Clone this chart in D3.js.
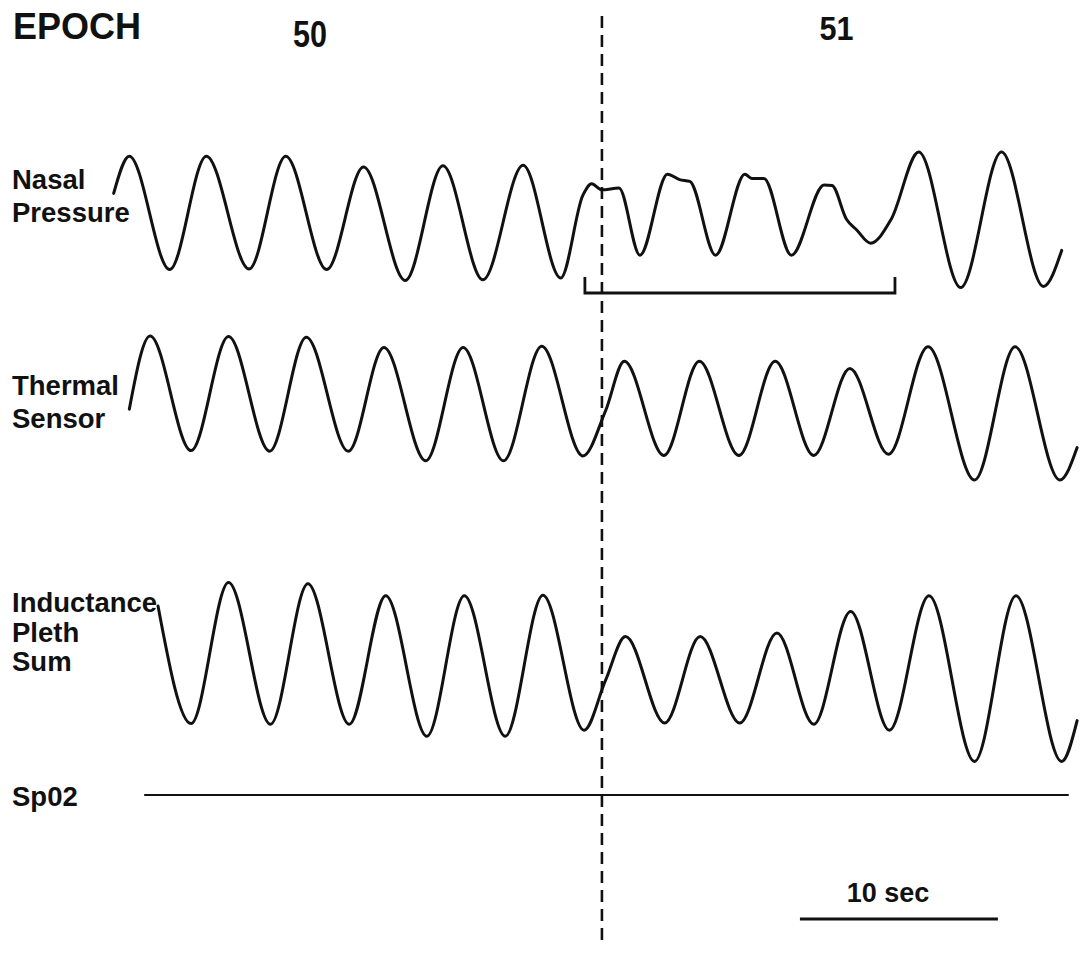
<!DOCTYPE html>
<html>
<head>
<meta charset="utf-8">
<script src="https://cdn.jsdelivr.net/npm/d3@7"></script>
<style>
  html, body { margin: 0; padding: 0; background: #fff; }
  svg text { font-family: "Liberation Sans", Arial, sans-serif; font-weight: bold; fill: #111; }
</style>
</head>
<body>
<svg id="chart" width="1080" height="956"></svg>
<script>
// ---------------- DATA (time in seconds, amplitude in arbitrary units) ----------------
const epochLabels = ["50", "51"];
const epochLabelTimes = [10.6, 37.2];
const epochBoundaryTime = 25.35;

const nasalTimes = [0.69, 1.48, 3.52, 5.37, 7.53, 9.38, 11.45, 13.31, 15.42, 17.32, 19.34, 21.37, 23.27,
  24.39, 24.83, 25.35, 26.21, 27.27, 28.66, 29.27, 29.79, 31.09, 32.57, 32.92, 33.53, 34.92,
  36.57, 36.97, 37.70, 38.22, 38.92, 39.96, 41.35, 43.47, 45.53, 47.65, 48.57];
const nasalValues = [0.36, 0.98, -0.91, 0.98, -0.90, 0.98, -0.91, 0.80, -1.09, 0.82, -1.08, 0.83, -1.05,
  0.33, 0.52, 0.42, 0.45, -0.67, 0.68, 0.59, 0.56, -0.67, 0.68, 0.61, 0.61, -0.67,
  0.50, 0.49, -0.07, -0.25, -0.47, -0.07, 1.05, -1.21, 1.05, -1.19, -0.59];

const thermalTimes = [1.48, 2.53, 4.60, 6.49, 8.57, 10.42, 12.54, 14.34, 16.45, 18.34, 20.38, 22.31,
  24.39, 25.53, 26.48, 28.48, 30.27, 32.27, 34.10, 36.05, 37.87, 39.82, 41.82, 44.17, 46.22, 48.48, 49.35];
const thermalValues = [-0.07, 1.15, -0.76, 1.14, -0.77, 1.13, -0.77, 0.96, -0.93, 0.96, -0.93, 0.98,
  -0.85, -0.10, 0.73, -0.84, 0.73, -0.84, 0.73, -0.84, 0.61, -0.82, 0.97, -1.25, 0.97, -1.25, -0.71];

const inductanceTimes = [2.93, 4.60, 6.49, 8.61, 10.50, 12.59, 14.43, 16.51, 18.40, 20.47, 22.37,
  24.45, 25.53, 26.54, 28.52, 30.31, 32.31, 34.19, 36.05, 37.91, 39.87, 41.87, 44.17, 46.26, 48.57, 49.35];
const inductanceValues = [1.10, -0.86, 1.49, -0.87, 1.47, -0.87, 1.27, -1.07, 1.27, -1.07, 1.28,
  -0.97, -0.14, 0.59, -0.85, 0.59, -0.85, 0.65, -0.87, 1.01, -0.97, 1.27, -1.49, 1.27, -1.49, -0.81];

const spo2Times = [2.27, 48.89];
const spo2Values = [0, 0];

const channelNames = [["Nasal", "Pressure"], ["Thermal", "Sensor"], ["Inductance", "Pleth", "Sum"], ["Sp02"]];

const bracketTimes = [24.49, 40.15];
const scaleBarStart = 35.35;
const scaleBarSeconds = 10;
const scaleBarLabel = "10 sec";

// ---------------- LAYOUT ----------------
const svg = d3.select("#chart");
const x = d3.scaleLinear().domain([0, 50]).range([100, 1090]);

function yScale(center) {
  return d3.scaleLinear().domain([-1, 1]).range([center + 60, center - 60]);
}
const channels = [
  { times: nasalTimes, values: nasalValues, y: yScale(215), labelY: [189, 222] },
  { times: thermalTimes, values: thermalValues, y: yScale(405), labelY: [395, 428] },
  { times: inductanceTimes, values: inductanceValues, y: yScale(672), labelY: [612, 642, 671] },
  { times: spo2Times, values: spo2Values, y: yScale(795), labelY: [806] }
];

channels.forEach((ch, i) => {
  const pts = ch.times.map((t, j) => [t, ch.values[j]]);
  const line = d3.line()
    .x(d => x(d[0]))
    .y(d => ch.y(d[1]))
    .curve(d3.curveMonotoneX);
  svg.append("path")
    .attr("d", line(pts))
    .attr("fill", "none")
    .attr("stroke", "#111")
    .attr("stroke-width", i === 3 ? 2 : 3)
    .attr("stroke-linejoin", "round")
    .attr("stroke-linecap", "round");

  const g = svg.append("g");
  channelNames[i].forEach((name, k) => {
    g.append("text")
      .attr("x", 12)
      .attr("y", ch.labelY[k])
      .attr("font-size", 27.5)
      .text(name);
  });
});

// Header
svg.append("text").attr("x", 13).attr("y", 39).attr("font-size", 36).text("EPOCH");
epochLabels.forEach((lab, i) => {
  svg.append("text")
    .attr("x", x(epochLabelTimes[i]))
    .attr("y", i === 0 ? 47 : 40)
    .attr("text-anchor", "middle")
    .attr("font-size", i === 0 ? 37 : 33)
    .attr("textLength", 34)
    .attr("lengthAdjust", "spacingAndGlyphs")
    .text(lab);
});

// Epoch boundary dashed line
svg.append("line")
  .attr("x1", x(epochBoundaryTime)).attr("x2", x(epochBoundaryTime))
  .attr("y1", 16).attr("y2", 946)
  .attr("stroke", "#111")
  .attr("stroke-width", 2.6)
  .attr("stroke-dasharray", "12,7");

// Bracket under nasal pressure
const bY = 293, bTop = 277;
svg.append("path")
  .attr("d", `M${x(bracketTimes[0])},${bTop}V${bY}H${x(bracketTimes[1])}V${bTop}`)
  .attr("fill", "none")
  .attr("stroke", "#111")
  .attr("stroke-width", 2.8);

// Scale bar
svg.append("line")
  .attr("x1", x(scaleBarStart)).attr("x2", x(scaleBarStart + scaleBarSeconds))
  .attr("y1", 919).attr("y2", 919)
  .attr("stroke", "#111").attr("stroke-width", 3);
svg.append("text")
  .attr("x", x(scaleBarStart + scaleBarSeconds / 2) - 11)
  .attr("y", 902)
  .attr("text-anchor", "middle")
  .attr("font-size", 27)
  .text(scaleBarLabel);
</script>
</body>
</html>
